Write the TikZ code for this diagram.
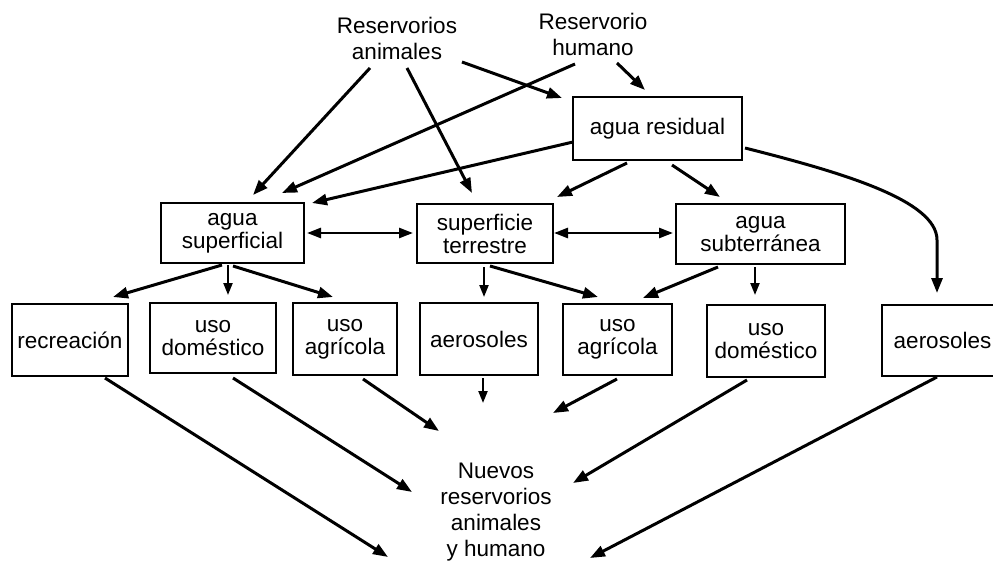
\documentclass[tikz,border=0pt]{standalone}
\usepackage{fontspec}
\setmainfont{Liberation Sans}
\usetikzlibrary{arrows.meta,calc}
\begin{document}
\begin{tikzpicture}[x=1pt,y=-1pt,
  every node/.style={font=\fontsize{22.5}{23}\selectfont},
  box/.style={draw, line width=2.8pt, inner sep=0pt, align=center},
  lbl/.style={align=center, inner sep=0pt, font=\fontsize{22.5}{26}\selectfont},
  arr/.style={line width=3pt, -{Triangle[length=15pt,width=11pt]}},
  sarr/.style={line width=2.2pt, -{Triangle[length=12pt,width=9pt]}},
  darr/.style={line width=2.6pt, {Triangle[length=14pt,width=10pt]}-{Triangle[length=14pt,width=10pt]}}]
\useasboundingbox (0,0) rectangle (993,562);
\clip (0,0) rectangle (993,562);

% labels
\node[lbl] (ra) at (397,38) {Reservorios\\animales};
\node[lbl] (rh) at (593,34.5) {Reservorio\\humano};
\node[lbl] (nv) at (496,512) {Nuevos\\reservorios\\animales\\y humano};

% boxes
\node[box, minimum width=169pt, minimum height=63pt] (ar) at (657.5,128.5) {agua residual};
\node[box, minimum width=143pt, minimum height=60pt] (as) at (232.5,233) {agua\\superficial};
\node[box, minimum width=136pt, minimum height=59pt] (st) at (485,233.5) {superficie\\terrestre};
\node[box, minimum width=169pt, minimum height=60pt] (sb) at (760.5,234) {agua\\subterránea};
\node[box, minimum width=116pt, minimum height=72pt] (rec) at (70,340) {recreación};
\node[box, minimum width=126pt, minimum height=70pt] (ud1) at (213,338) {uso\\doméstico};
\node[box, minimum width=104pt, minimum height=72pt] (ag1) at (345,339) {uso\\agrícola};
\node[box, minimum width=118pt, minimum height=72pt] (ae1) at (479,339) {aerosoles};
\node[box, minimum width=109pt, minimum height=71pt] (ag2) at (617.5,339.5) {uso\\agrícola};
\node[box, minimum width=118pt, minimum height=72pt] (ud2) at (766,341) {uso\\doméstico};
\node[box, minimum width=121pt, minimum height=71pt] (ae2) at (942.5,340.5) {aerosoles};

% from reservoirs
\draw[arr] ($(ra.center)+(-27,30)$) -- ($(as.center)+(20.5,-38)$);
\draw[arr] ($(ra.center)+(10,30)$) -- ($(st.center)+(-13,-40.5)$);
\draw[arr] ($(ra.center)+(65,24)$) -- ($(ar.center)+(-95.5,-30.5)$);
\draw[arr] ($(rh.center)+(-18,29.5)$) -- ($(as.center)+(49.5,-40)$);
\draw[arr] ($(rh.center)+(24,28.5)$) -- ($(ar.center)+(-12.5,-38.5)$);

% from agua residual
\draw[arr] ($(ar.center)+(-84.5,13.5)$) -- ($(as.center)+(79.5,-30)$);
\draw[arr] ($(ar.center)+(-30.5,34.5)$) -- ($(st.center)+(72,-36.5)$);
\draw[arr] ($(ar.center)+(14.5,36.5)$) -- ($(sb.center)+(-40.5,-37)$);
\draw[arr] ($(ar.center)+(87.5,19.5)$) .. controls +(95,24) and +(0,-40) .. ($(ae2.center)+(-5.5,-100.5)$) -- ($(ae2.center)+(-5.5,-47.5)$);

% between middle boxes
\draw[darr] ($(as.center)+(74.5,0)$) -- ($(st.center)+(-72,-0.5)$);
\draw[darr] ($(st.center)+(69,-0.5)$) -- ($(sb.center)+(-87.5,-1)$);

% to uses
\draw[arr] ($(as.center)+(-10.5,32)$) -- ($(rec.center)+(43,-43)$);
\draw[sarr] ($(as.center)+(-4.5,32)$) -- ($(ud1.center)+(15,-43)$);
\draw[arr] ($(as.center)+(0.5,33)$) -- ($(ag1.center)+(-12,-42)$);
\draw[sarr] ($(st.center)+(-1,33.5)$) -- ($(ae1.center)+(5,-42)$);
\draw[arr] ($(st.center)+(5,32.5)$) -- ($(ag2.center)+(-19.5,-42.5)$);
\draw[arr] ($(sb.center)+(-42.5,33)$) -- ($(ag2.center)+(25.5,-41.5)$);
\draw[sarr] ($(sb.center)+(-5.5,33)$) -- ($(ud2.center)+(-11,-46)$);

% to new reservoirs
\draw[arr] ($(rec.center)+(35,38)$) -- ($(nv.center)+(-108,45)$);
\draw[arr] ($(ud1.center)+(20,40)$) -- ($(nv.center)+(-84,-20)$);
\draw[arr] ($(ag1.center)+(18,40)$) -- ($(nv.center)+(-57,-81)$);
\draw[sarr] ($(ae1.center)+(4,39)$) -- ($(nv.center)+(-13,-109)$);
\draw[arr] ($(ag2.center)+(-0.5,39.5)$) -- ($(nv.center)+(57,-99)$);
\draw[arr] ($(ud2.center)+(-19,39)$) -- ($(nv.center)+(77,-29)$);
\draw[arr] ($(ae2.center)+(-5.5,36.5)$) -- ($(nv.center)+(94,46)$);
\end{tikzpicture}
\end{document}
